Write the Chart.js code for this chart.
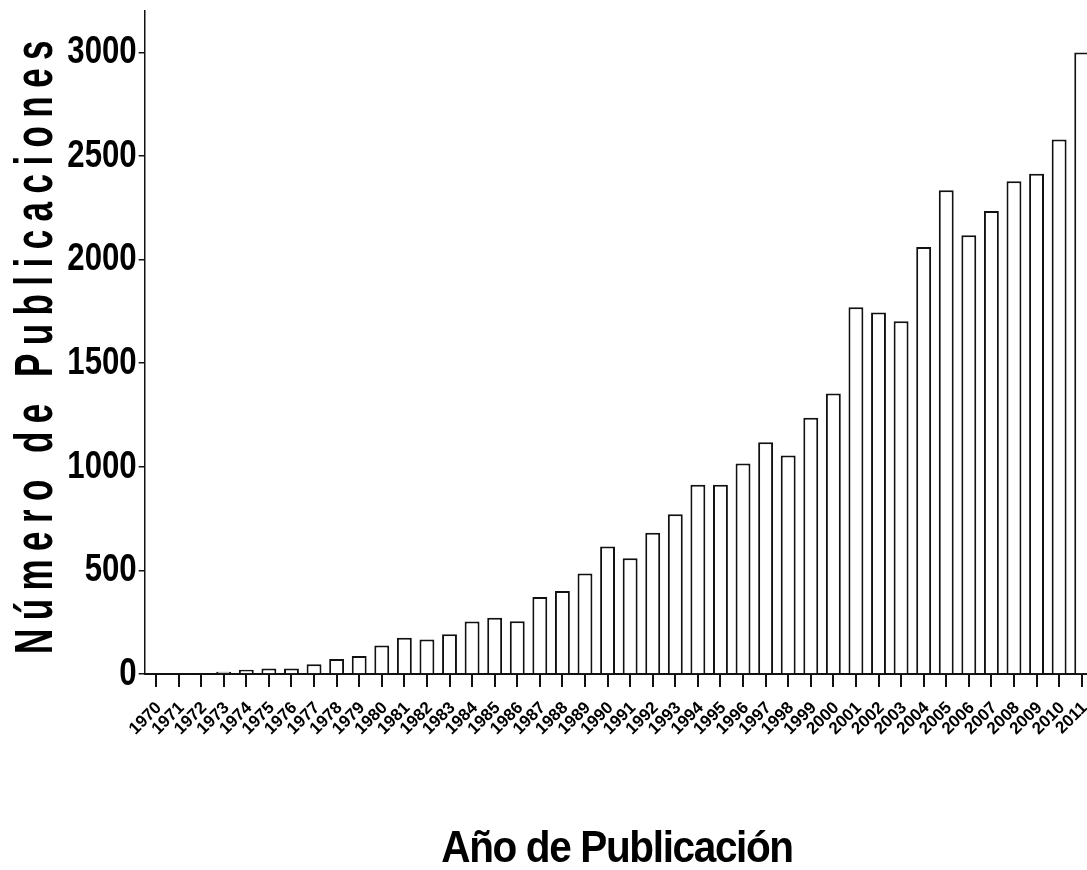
<!DOCTYPE html>
<html>
<head>
<meta charset="utf-8">
<script src="https://cdn.jsdelivr.net/npm/chart.js@4"></script>
<style>
  html, body { margin: 0; padding: 0; background: #fff; overflow: hidden; }
  #wrap { width: 1093px; height: 870px; }
</style>
</head>
<body>
<div id="wrap"><canvas id="myChart" width="1093" height="870"></canvas></div>
<script>
// años y número de publicaciones
const anios = ['1970','1971','1972','1973','1974','1975','1976','1977','1978','1979',
               '1980','1981','1982','1983','1984','1985','1986','1987','1988','1989',
               '1990','1991','1992','1993','1994','1995','1996','1997','1998','1999',
               '2000','2001','2002','2003','2004','2005','2006','2007','2008','2009',
               '2010','2011'];
const publicaciones = [0, 0, 3, 11, 20, 27, 27, 47, 72, 87,
                       137, 175, 166, 192, 253, 272, 255, 372, 401, 485,
                       615, 559, 682, 771, 913, 913, 1016, 1119, 1055, 1237,
                       1354, 1770, 1745, 1702, 2061, 2335, 2118, 2235, 2378, 2415,
                       2580, 3000];
const ticksY = [0, 500, 1000, 1500, 2000, 2500, 3000];
const tituloY = 'Número de Publicaciones';
const tituloX = 'Año de Publicación';

// titulos de los ejes, dibujados a mano para poder estrecharlos
const titulos = {
  id: 'titulos',
  afterDraw(chart) {
    const ctx = chart.ctx;
    ctx.save();
    ctx.fillStyle = '#000';
    ctx.textAlign = 'center';
    ctx.textBaseline = 'alphabetic';
    ctx.font = 'bold 53px "Liberation Sans", Arial, sans-serif';
    ctx.letterSpacing = '12.8px';
    ctx.translate(52, 343);
    ctx.rotate(-Math.PI / 2);
    ctx.scale(0.66, 1);
    ctx.fillText(tituloY, 0, 0);
    ctx.restore();

    ctx.save();
    ctx.fillStyle = '#000';
    ctx.textAlign = 'center';
    ctx.textBaseline = 'alphabetic';
    ctx.font = 'bold 45px "Liberation Sans", Arial, sans-serif';
    ctx.letterSpacing = '-1.5px';
    ctx.translate(617, 862);
    ctx.scale(0.9, 1);
    ctx.fillText(tituloX, 0, 0);
    ctx.restore();
  }
};

const ctx = document.getElementById('myChart');
const grafica = new Chart(ctx, {
  type: 'bar',
  data: {
    labels: anios,
    datasets: [{
      label: 'Publicaciones',
      data: publicaciones,
      backgroundColor: '#fff',
      borderColor: '#111',
      borderWidth: 2,
      barPercentage: 0.66,
      categoryPercentage: 1
    }]
  },
  options: {
    responsive: false,
    animation: false,
    devicePixelRatio: 1,
    layout: { padding: { top: 11, left: 0, right: 0, bottom: 0 } },
    plugins: { legend: { display: false }, tooltip: { enabled: false } },
    scales: {
      x: {
        offset: true,
        grid: { offset: false, drawOnChartArea: false, color: '#111', lineWidth: 2, tickLength: 13 },
        border: { color: '#111', width: 2 },
        ticks: {
          color: '#000',
          maxRotation: 45, minRotation: 45,
          autoSkip: false,
          padding: 11,
          labelOffset: 3,
          font: { family: '"Liberation Sans", Arial, sans-serif', size: 17, weight: 'bold' }
        },
        afterFit(scale) {
          scale.height = 196;
          scale.paddingLeft = 0;
          scale.paddingRight = 0;
        }
      },
      y: {
        min: 0, max: 3200,
        grid: { drawOnChartArea: false, color: '#111', lineWidth: 1.5, tickLength: 6 },
        border: { color: '#111', width: 1.5 },
        ticks: {
          color: '#000',
          padding: 2,
          callback: v => String(v),
          font: { family: '"Liberation Sans", Arial, sans-serif', size: 39, weight: 'bold' }
        },
        afterBuildTicks(scale) {
          scale.ticks = ticksY.map(v => ({ value: v }));
        },
        afterFit(scale) {
          scale.width = 144.7;
          scale.paddingTop = 0;
          scale.paddingBottom = 0;
          // etiquetas estrechas, como en el original
          if (!scale._estrecho) {
            const dibujar = scale.drawLabels;
            scale.drawLabels = function (area) {
              const c = this.ctx;
              const ax = this.right - 8;
              c.save();
              c.translate(ax, 0);
              c.scale(0.8, 1);
              c.translate(-ax, 0);
              dibujar.call(this, area);
              c.restore();
            };
            scale._estrecho = true;
          }
        }
      }
    }
  },
  plugins: [titulos]
});
</script>
</body>
</html>
